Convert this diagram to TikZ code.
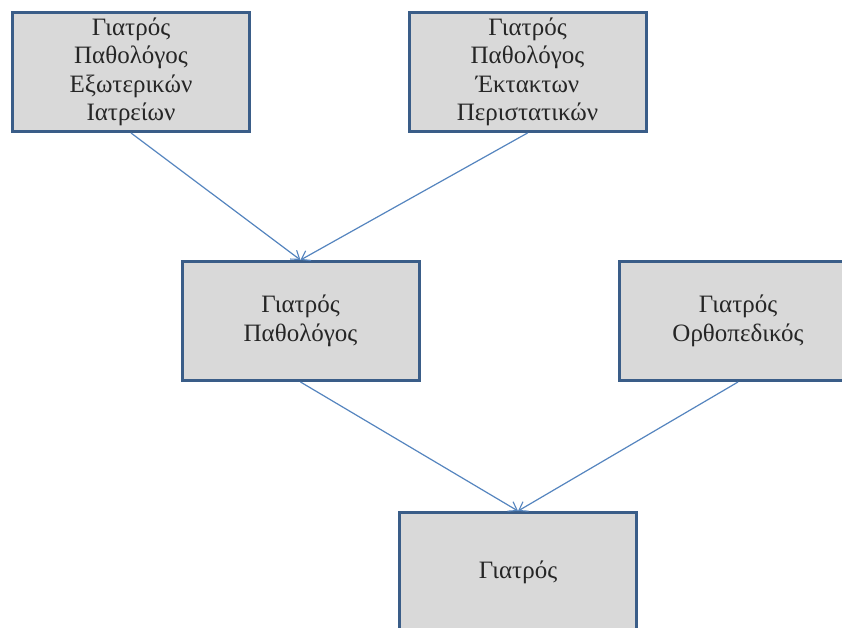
\documentclass[tikz,border=0pt]{standalone}
\usepackage{fontspec}
\setmainfont{Liberation Serif}
\usetikzlibrary{arrows.meta}
\definecolor{boxborder}{HTML}{3A5D88}
\definecolor{boxfill}{HTML}{D9D9D9}
\definecolor{linkblue}{HTML}{5585BF}
\tikzset{
  rolebox/.style={draw=boxborder, line width=3pt, fill=boxfill,
    minimum width=237pt, minimum height=119pt, inner sep=0pt,
    align=center, text=black!85,
    font=\fontsize{25}{28.5}\selectfont},
  link/.style={draw=linkblue, line width=1.2pt,
    -{Straight Barb[length=8pt,width=11pt,line width=1.1pt]}}
}
\begin{document}
\begin{tikzpicture}[x=1pt,y=-1pt]
  \clip (0,0) rectangle (842,628);
  \fill[white] (0,0) rectangle (842,628);

  % staff roles
  \node[rolebox] (outpat) at (131,72) {Γιατρός\\Παθολόγος\\Εξωτερικών\\Ιατρείων};
  \node[rolebox] (emerg)  at (527.5,72) {Γιατρός\\Παθολόγος\\Έκτακτων\\Περιστατικών};
  \node[rolebox] (path)   at (300.5,321) {Γιατρός\\Παθολόγος};
  \node[rolebox] (ortho)  at (738,321) {Γιατρός\\Ορθοπεδικός};
  \node[rolebox] (doctor) at (518,572) {Γιατρός};

  % specialisation links
  \draw[link] (outpat.south) -- (path.north);
  \draw[link] (emerg.south)  -- (path.north);
  \draw[link] (path.south)   -- (doctor.north);
  \draw[link] (ortho.south)  -- (doctor.north);
\end{tikzpicture}
\end{document}
